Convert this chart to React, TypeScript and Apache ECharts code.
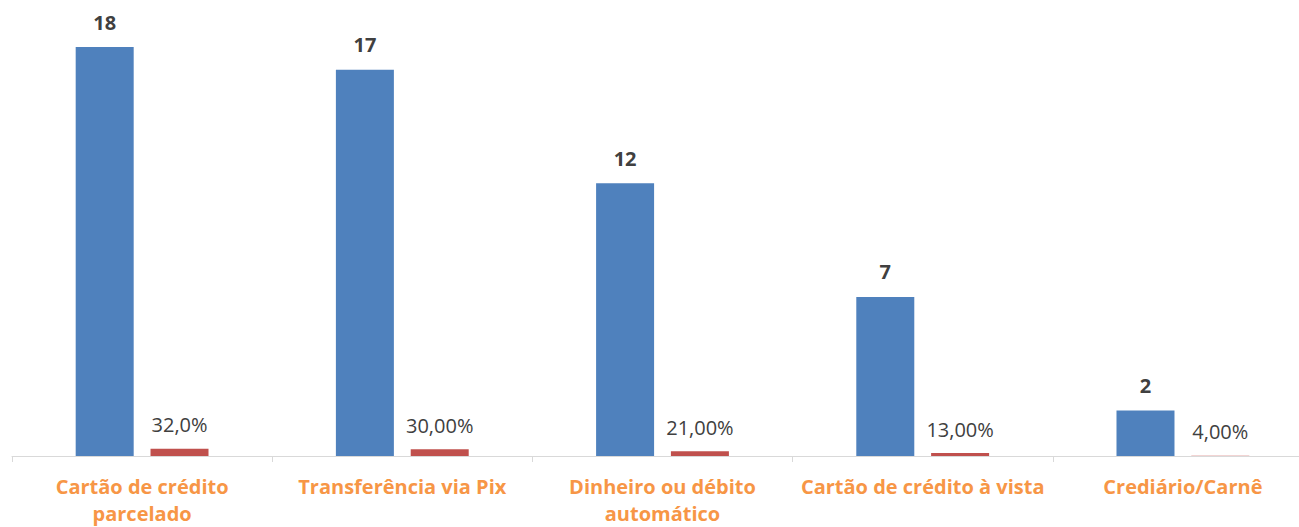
import React, { useEffect, useRef } from "react";
import * as echarts from "echarts";

const categories = [
  "Cartão de crédito\nparcelado",
  "Transferência via Pix",
  "Dinheiro ou débito\nautomático",
  "Cartão de crédito à vista",
  "Crediário/Carnê",
];
const counts = [18, 17, 12, 7, 2];
const shares = [0.32, 0.3, 0.21, 0.13, 0.04];
const shareLabels = ["32,0%", "30,00%", "21,00%", "13,00%", "4,00%"];

export default function App() {
  const ref = useRef<HTMLDivElement>(null);
  useEffect(() => {
    const chart = echarts.init(ref.current!, null, { renderer: "svg" });
    const font = "'Open Sans', sans-serif";
    chart.setOption({
      animation: false,
      grid: { left: 12, right: 0, top: 47, bottom: 69 },
      xAxis: {
        type: "category",
        data: categories,
        axisLine: { lineStyle: { color: "#d9d9d9", width: 1 } },
        axisTick: { show: true, length: 6, lineStyle: { color: "#d9d9d9" } },
        axisLabel: {
          color: "#F79646",
          fontWeight: "bold",
          fontSize: 20,
          fontFamily: font,
          margin: 17,
          lineHeight: 27,
          interval: 0,
        },
      },
      yAxis: {
        type: "value",
        min: 0,
        max: 18,
        show: false,
        splitLine: { show: false },
      },
      series: [
        {
          type: "bar",
          data: counts,
          barWidth: 58,
          barGap: "29%",
          itemStyle: { color: "#4F81BD" },
          label: {
            show: true,
            position: "top",
            distance: 15,
            color: "#404040",
            fontWeight: "bold",
            fontSize: 20,
            fontFamily: font,
          },
        },
        {
          type: "bar",
          data: shares,
          barWidth: 58,
          itemStyle: {
            color: (p: any) => (p.dataIndex === 4 ? "#F2D4D3" : "#C0504D"),
          },
          label: {
            show: true,
            position: "top",
            distance: 14,
            color: "#404040",
            fontSize: 20,
            fontFamily: font,
            formatter: (p: any) => shareLabels[p.dataIndex],
          },
        },
      ],
    });
    return () => chart.dispose();
  }, []);
  return (
    <div style={{ position: "absolute", left: 0, top: 0, width: 1299, height: 527, overflow: "hidden" }}>
      <div ref={ref} style={{ width: 1313, height: 527 }} />
    </div>
  );
}
